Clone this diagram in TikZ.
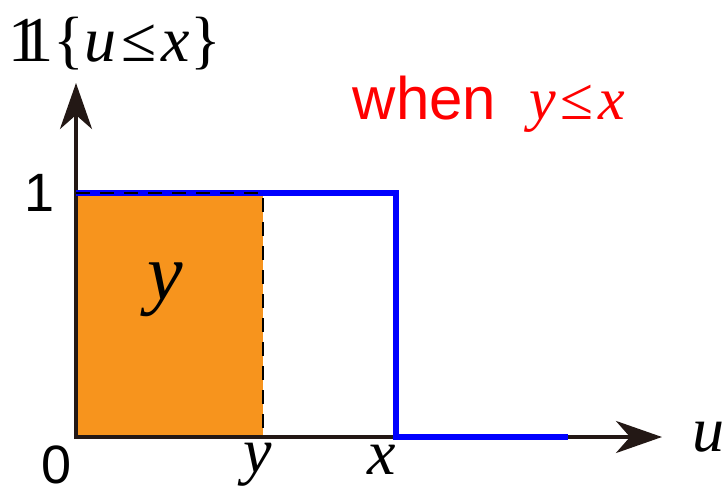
\documentclass[tikz,border=0pt]{standalone}
\usepackage{fontspec}
\setmainfont{Liberation Sans}
\newfontfamily\serifmath{Liberation Serif}
\usepackage{tikz}
\usetikzlibrary{arrows.meta,positioning}
\definecolor{axisdark}{HTML}{231815}
\definecolor{shadeorange}{HTML}{F7941D}
\definecolor{indblue}{HTML}{0000FF}
\definecolor{notered}{HTML}{FF0000}
\newcommand{\mv}[1]{{\serifmath\itshape #1}}
\newcommand{\indone}{{\serifmath 1\kern-0.3em 1}}
\newcommand{\lesym}{{\serifmath\kern0.08em ≤\kern0.08em}}

\begin{document}
\begin{tikzpicture}[
    x=0.5pt,
    y=-0.5pt,
    font=\fontsize{27}{32}\selectfont,
    axis/.style={draw=axisdark, line width=2pt, -{Stealth[length=23pt, width=16pt, inset=7pt]}},
    indic/.style={draw=indblue, line width=2.6pt, line join=miter},
    guide/.style={draw=black, line width=1pt, dash pattern=on 7pt off 5pt},
    lab/.style={inner sep=0pt},
    mathlab/.style={inner sep=0pt, font=\fontsize{32}{36}\selectfont}
  ]
    \useasboundingbox (0,0) rectangle (725,493);

    \coordinate (origin) at (76,437);
    \coordinate (ytip) at (76,83);
    \coordinate (xtip) at (662,437);
    \coordinate (ytop) at (263,193);
    \coordinate (ybot) at (263,437);
    \coordinate (onetop) at (76,193);
    \coordinate (xtop) at (396,193);
    \coordinate (xbot) at (396,437);
    \coordinate (indend) at (568,437);

    % shaded area under the indicator up to y
    \fill[shadeorange] (origin) rectangle (ytop);

    \draw[axis] ([yshift=-1pt]origin) -- (ytip);
    \draw[axis] ([xshift=-1pt]origin) -- (xtip);

    \draw[indic] (onetop) -- (xtop) -- (xbot) -- (indend);
    \draw[guide] (onetop) -- (ytop) -- (ybot);

    \node[mathlab] (title) at (115,44) {\indone{\serifmath\{}\mv{u}\lesym\mv{x}{\serifmath\}}};
    \node[lab, text=notered, font=\fontsize{30}{34}\selectfont] (cond) at (489,104) {when\ \ \mv{y}\lesym\mv{x}};
    \node[lab] (one) at (40,193) {1};
    \node[lab] (zero) at (57,465) {0};
    \node[mathlab] (ylab) at (258,465) {\mv{y}};
    \node[mathlab] (xlab) at (382,460) {\mv{x}};
    \node[mathlab] (ulab) at (708,437) {\mv{u}};
    \node[mathlab, font=\fontsize{40}{44}\selectfont] (area) at (165,290) {\mv{y}};
  \end{tikzpicture}
\end{document}
